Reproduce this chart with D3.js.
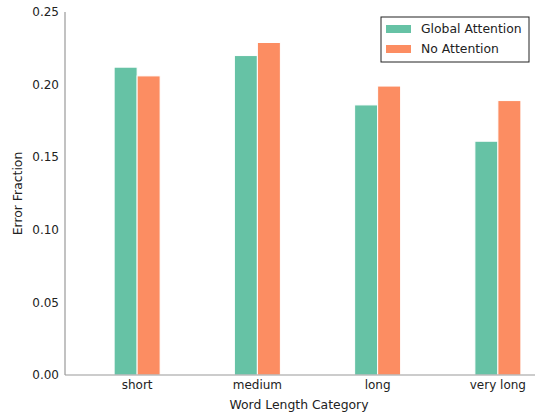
<!DOCTYPE html>
<html>
<head>
<meta charset="utf-8">
<script src="https://cdn.jsdelivr.net/npm/d3@7"></script>
<style>
body { margin: 0; background: #fff; }
svg { font-family: "DejaVu Sans", sans-serif; }
</style>
</head>
<body>
<svg id="chart" width="537" height="414"></svg>
<script>
// data
var categories = ['short', 'medium', 'long', 'very long'];
var seriesNames = ['Global Attention', 'No Attention'];
var globalAttention = [0.212, 0.220, 0.186, 0.161];
var noAttention = [0.206, 0.229, 0.199, 0.189];
var yTicks = [0.00, 0.05, 0.10, 0.15, 0.20, 0.25];
var colors = ['#66c2a5', '#fc8d62'];

var rows = categories.map(function (c, i) {
    return {cat: c, vals: [globalAttention[i], noAttention[i]]};
});

const svg = d3.select('#chart');
const plotLeft = 65, plotRight = 535, plotTop = 12, plotBottom = 375;

const xScale = d3.scaleBand()
    .domain(categories)
    .range([77, 558])
    .padding(0);

const barW = 23;
const xInner = d3.scaleBand()
    .domain(seriesNames)
    .range([-barW, barW]);

const yScale = d3.scaleLinear()
    .domain([0, 0.25])
    .range([plotBottom, plotTop]);

// spines
svg.append('line')
    .attr('x1', plotLeft).attr('x2', plotLeft)
    .attr('y1', plotTop).attr('y2', plotBottom)
    .attr('stroke', '#999').attr('stroke-width', 1.2);

// y tick labels
svg.selectAll('.ytick')
    .data(yTicks)
    .enter().append('text')
    .attr('class', 'ytick')
    .attr('x', plotLeft - 6)
    .attr('y', function (d) { return yScale(d); })
    .attr('dy', '0.35em')
    .attr('text-anchor', 'end')
    .attr('font-size', 12)
    .attr('fill', '#222')
    .text(function (d) { return d.toFixed(2); });

// bars
const groups = svg.selectAll('.grp')
    .data(rows)
    .enter().append('g')
    .attr('class', 'grp')
    .attr('transform', function (d) {
        return 'translate(' + (xScale(d.cat) + xScale.bandwidth() / 2) + ',0)';
    });

groups.selectAll('rect')
    .data(function (d) { return d.vals; })
    .enter().append('rect')
    .attr('x', function (d, i) { return xInner(seriesNames[i]); })
    .attr('y', function (d) { return yScale(d); })
    .attr('width', xInner.bandwidth())
    .attr('height', function (d) { return plotBottom - yScale(d); })
    .attr('fill', function (d, i) { return colors[i]; })
    .attr('stroke', '#fff')
    .attr('stroke-width', 1);

svg.append('line')
    .attr('x1', plotLeft).attr('x2', plotRight)
    .attr('y1', plotBottom).attr('y2', plotBottom)
    .attr('stroke', '#999').attr('stroke-width', 1.2);

// x tick labels
svg.selectAll('.xtick')
    .data(categories)
    .enter().append('text')
    .attr('class', 'xtick')
    .attr('x', function (d) { return xScale(d) + xScale.bandwidth() / 2; })
    .attr('y', plotBottom + 14)
    .attr('text-anchor', 'middle')
    .attr('font-size', 12)
    .attr('fill', '#222')
    .text(function (d) { return d; });

// axis labels
svg.append('text')
    .attr('x', 299)
    .attr('y', 409)
    .attr('text-anchor', 'middle')
    .attr('font-size', 12.4)
    .attr('fill', '#222')
    .text('Word Length Category');

svg.append('text')
    .attr('transform', 'translate(22,' + ((plotTop + plotBottom) / 2) + ') rotate(-90)')
    .attr('text-anchor', 'middle')
    .attr('font-size', 12.4)
    .attr('fill', '#222')
    .text('Error Fraction');

// legend
const legend = svg.append('g').attr('transform', 'translate(381,17)');
legend.append('rect')
    .attr('width', 148).attr('height', 45)
    .attr('fill', '#fff')
    .attr('stroke', '#222').attr('stroke-width', 1);

seriesNames.forEach(function (name, i) {
    legend.append('rect')
        .attr('x', 5).attr('y', 8 + i * 20)
        .attr('width', 25).attr('height', 8)
        .attr('fill', colors[i]);
    legend.append('text')
        .attr('x', 40).attr('y', 12 + i * 20)
        .attr('dy', '0.35em')
        .attr('font-size', 12.4)
        .attr('fill', '#222')
        .text(name);
});
</script>
</body>
</html>
